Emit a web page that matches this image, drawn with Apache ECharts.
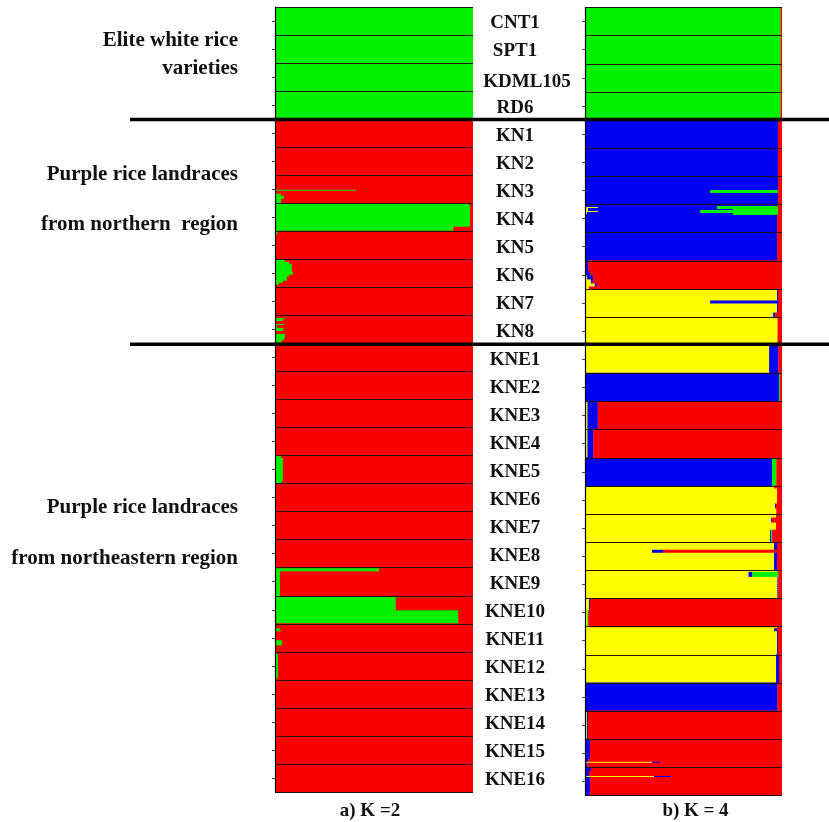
<!DOCTYPE html>
<html><head><meta charset="utf-8">
<script src="https://cdn.jsdelivr.net/npm/echarts@6/dist/echarts.min.js"></script>
<style>html,body{margin:0;padding:0;background:#fff}#c{width:829px;height:822px}</style>
</head><body><div id="c"></div>
<script>
// ---- data ----
const populations = ['CNT1','SPT1','KDML105','RD6','KN1','KN2','KN3','KN4','KN5','KN6','KN7','KN8',
  'KNE1','KNE2','KNE3','KNE4','KNE5','KNE6','KNE7','KNE8','KNE9','KNE10','KNE11','KNE12','KNE13','KNE14','KNE15','KNE16'];
const individualsPerPop = 14;
const groupLabels = [
  ['Elite white rice', 41], ['varieties', 69],
  ['Purple rice landraces', 175], ['from northern  region', 225],
  ['Purple rice landraces', 508], ['from northeastern region', 559]
];
const panelTitles = ['a) K =2', 'b) K = 4'];
const k2Names = ['green', 'red'];
const k4Names = ['yellow', 'blue', 'green', 'red'];
const k2Colors = ['#00f000', '#fa0000'];
const k4Colors = ['#ffff00', '#0000f5', '#00f000', '#fa0000'];

// K = 2 : runs of [number of individuals, green proportion] (red = remainder), top to bottom
const k2Runs = [
  [[14,1]], [[14,1]], [[14,1]], [[14,1]],
  [[14,0]], [[14,0]],
  [[7,0],[1,0.41],[1,0],[1,0.03],[2,0.045],[2,0.03]],
  [[1,0.98],[11,0.985],[2,0.9]],
  [[1,0.015],[1,0.01],[12,0]],
  [[1,0.05],[1,0.07],[4,0.085],[2,0.09],[1,0.07],[2,0.06],[1,0.04],[1,0.02],[1,0]],
  [[14,0]],
  [[1,0],[1,0.05],[1,0.04],[1,0],[1,0.045],[1,0.01],[1,0.045],[1,0.04],[1,0],[1,0.05],[2,0.05],[1,0.04],[1,0.03]],
  [[14,0]], [[14,0]], [[14,0]], [[14,0]],
  [[1,0.03],[12,0.04],[1,0.035]],
  [[14,0]], [[14,0]], [[14,0]],
  [[2,0.525],[12,0.025]],
  [[1,0.92],[6,0.61],[7,0.925]],
  [[2,0],[1,0.025],[1,0.03],[4,0],[3,0.035],[3,0]],
  [[1,0.01],[12,0.015],[1,0.01]],
  [[14,0]], [[14,0]], [[14,0]], [[14,0]]
];

// K = 4 : runs of [number of individuals, yellow, blue, green] (red = remainder), top to bottom
const k4Runs = [
  [[14,0,0,0.993]], [[14,0,0,0.993]], [[14,0,0,0.993]], [[14,0,0,0.993]],
  [[14,0,0.98,0]],
  [[14,0,0.98,0]],
  [[7,0,0.98,0],[1,0,0.635,0.345],[6,0,0.98,0]],
  [[1,0,0.975,0],[1,0.065,0.605,0.31],[1,0.015,0.735,0.23],[1,0.065,0.52,0.395],[1,0.01,0.74,0.23],[9,0,0.975,0]],
  [[14,0,0.975,0]],
  [[5,0,0.015,0],[2,0.005,0.02,0],[2,0.01,0.03,0],[2,0.03,0.01,0],[2,0.05,0.01,0],[1,0.02,0,0]],
  [[6,0.975,0.005,0],[1,0.635,0.355,0],[5,0.975,0.005,0],[2,0.955,0.01,0]],
  [[14,0.978,0,0]],
  [[14,0.935,0.047,0]],
  [[14,0,0.985,0.005]],
  [[14,0.013,0.052,0]],
  [[14,0.013,0.03,0]],
  [[14,0,0.95,0.022]],
  [[1,0.96,0,0],[8,0.975,0,0],[2,0.965,0.005,0],[3,0.972,0,0]],
  [[2,0.97,0,0],[2,0.945,0.005,0],[4,0.97,0,0],[6,0.94,0.005,0.005]],
  [[4,0.96,0.015,0],[1,0.34,0.056,0],[9,0.96,0.015,0]],
  [[1,0.977,0.005,0],[2,0.83,0.02,0.132],[11,0.977,0.005,0]],
  [[6,0.02,0.005,0],[8,0.012,0,0.005]],
  [[1,0.975,0,0],[1,0.96,0.015,0],[12,0.975,0.005,0]],
  [[14,0.97,0.015,0]],
  [[14,0,0.977,0]],
  [[14,0.01,0.005,0]],
  [[10,0,0.025,0],[1,0,0.015,0],[1,0.34,0.042,0],[2,0,0.012,0]],
  [[2,0,0.03,0],[2,0,0.02,0],[1,0.35,0.09,0],[9,0,0.025,0]]
];

// ---- expand runs into per-individual series ----
const individuals = [];
const k2Data = [[], []];
const k4Data = [[], [], [], []];
populations.forEach((p, pi) => {
  let n = 0;
  k2Runs[pi].forEach(([cnt, g]) => {
    for (let i = 0; i < cnt; i++) {
      individuals.push(p + '-' + (++n));
      k2Data[0].push(g); k2Data[1].push(+(1 - g).toFixed(4));
    }
  });
  k4Runs[pi].forEach(([cnt, y, b, g]) => {
    for (let i = 0; i < cnt; i++) {
      k4Data[0].push(y); k4Data[1].push(b); k4Data[2].push(g);
      k4Data[3].push(+(1 - y - b - g).toFixed(4));
    }
  });
});

const serif = 'Liberation Serif, Times New Roman, serif';
const chart = echarts.init(document.getElementById('c'), null, {renderer: 'canvas'});

function popAxis(grid) {
  return {
    type: 'category', gridIndex: grid, data: populations, inverse: true, position: 'left', z: 5,
    axisLine: {show: true, lineStyle: {color: '#000', width: 1.2}},
    axisTick: {show: true, alignWithLabel: true, length: 3, lineStyle: {color: '#444'}},
    axisLabel: {show: false},
    splitLine: {show: true, lineStyle: {color: '#220f0f', width: 1.2}}
  };
}
function barSeries(names, colors, data, xi, yi, stack) {
  return names.map((nm, k) => ({
    name: stack + '-' + nm, type: 'bar', stack: stack, xAxisIndex: xi, yAxisIndex: yi,
    barWidth: 3,
    itemStyle: {color: colors[k], borderWidth: 0},
    emphasis: {disabled: true},
    data: data[k]
  }));
}

chart.setOption({
  animation: false,
  backgroundColor: '#fff',
  grid: [
    {left: 275, top: 7, width: 198, height: 785},
    {left: 585, top: 7.5, width: 197, height: 788}
  ],
  xAxis: [
    {type: 'value', gridIndex: 0, min: 0, max: 1, show: false},
    {type: 'value', gridIndex: 1, min: 0, max: 1, show: false}
  ],
  yAxis: [
    {type: 'category', gridIndex: 0, data: individuals, inverse: true, show: false},
    popAxis(0),
    {type: 'category', gridIndex: 0, data: populations, inverse: true, position: 'right',
     axisLine: {show: false}, axisTick: {show: false}, splitLine: {show: false},
     axisLabel: {show: true, interval: 0, margin: 42, align: 'center', padding: [5, 0, 0, 0],
       fontFamily: serif, fontWeight: 'bold', fontSize: 19, color: '#111',
       formatter: v => v === 'KDML105' ? '{w|' + v + '}' : v,
       rich: {w: {padding: [5, 0, 0, 24], fontFamily: serif, fontWeight: 'bold', fontSize: 19, color: '#111'}}}},
    {type: 'category', gridIndex: 1, data: individuals, inverse: true, show: false},
    popAxis(1)
  ],
  series: [
    ...barSeries(k2Names, k2Colors, k2Data, 0, 0, 'k2'),
    ...barSeries(k4Names, k4Colors, k4Data, 1, 3, 'k4')
  ]
});

// thick group separators at population boundaries, from axis positions
function boundary(a, b) {
  const y1 = chart.convertToPixel({yAxisIndex: 1}, a), y2 = chart.convertToPixel({yAxisIndex: 1}, b);
  const z1 = chart.convertToPixel({yAxisIndex: 4}, a), z2 = chart.convertToPixel({yAxisIndex: 4}, b);
  return ((y1 + y2) / 2 + (z1 + z2) / 2) / 2;
}
const sepYs = [boundary('RD6', 'KN1'), boundary('KN8', 'KNE1')];
const graphics = [];
sepYs.forEach(y => graphics.push({type: 'line', z: 10,
  shape: {x1: 130, y1: y, x2: 829, y2: y}, style: {stroke: '#000', lineWidth: 3.5}}));
groupLabels.forEach(([t, y]) => graphics.push({type: 'text', x: 238, y: y, z: 10,
  style: {text: t, fontFamily: serif, fontWeight: 'bold', fontSize: 21, fill: '#111',
    textAlign: 'right', textVerticalAlign: 'middle'}}));
const l0 = chart.convertToPixel({xAxisIndex: 0}, 0.5);
const l1 = chart.convertToPixel({xAxisIndex: 1}, 0.5);
[[panelTitles[0], l0 - 4], [panelTitles[1], l1 + 12]].forEach(([t, x]) => graphics.push({type: 'text', x: x, y: 811, z: 10,
  style: {text: t, fontFamily: serif, fontWeight: 'bold', fontSize: 19, fill: '#111',
    textAlign: 'center', textVerticalAlign: 'middle'}}));
chart.setOption({graphic: graphics});
</script></body></html>
